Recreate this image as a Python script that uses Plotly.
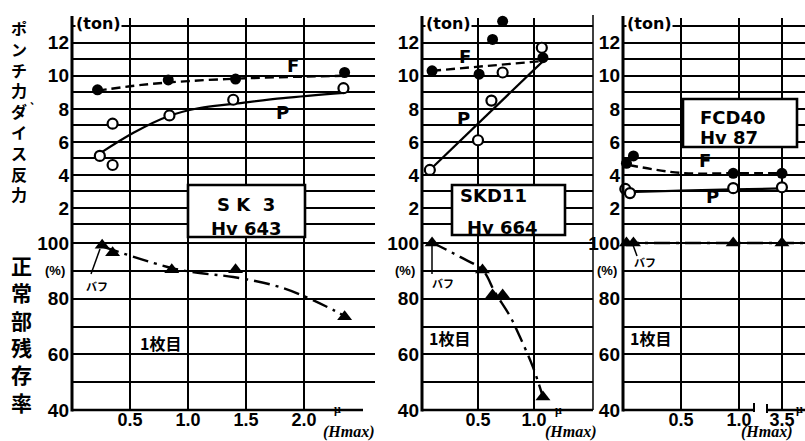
import plotly.graph_objects as go

# ---------------- data ----------------
# Panel 1 : SK 3, Hv 643
sk3_F_x = [0.22, 0.83, 1.41, 2.35]
sk3_F_y = [9.15, 9.75, 9.8, 10.2]
sk3_Ffit_x = [0.22, 0.6, 1.0, 1.5, 2.0, 2.35]
sk3_Ffit_y = [9.1, 9.45, 9.68, 9.85, 9.95, 10.0]
sk3_P_x = [0.24, 0.35, 0.35, 0.84, 1.39, 2.34]
sk3_P_y = [5.15, 7.1, 4.6, 7.6, 8.55, 9.25]
sk3_Pfit_x = [0.24, 0.53, 0.83, 1.10, 1.39, 1.82, 2.34]
sk3_Pfit_y = [5.3, 6.55, 7.55, 8.05, 8.3, 8.65, 8.97]
sk3_R_x = [0.26, 0.35, 0.86, 1.41, 2.35]
sk3_R_y = [99.2, 96.5, 90.4, 90.4, 73.5]
sk3_Rfit_x = [0.27, 0.86, 1.10, 1.39, 1.82, 2.25, 2.38]
sk3_Rfit_y = [98.6, 91.0, 89.2, 87.8, 83.8, 76.0, 73.0]

# Panel 2 : SKD11, Hv 664
skd_F_x = [0.09, 0.51, 0.63, 0.72, 1.08]
skd_F_y = [10.3, 10.1, 12.2, 13.3, 11.1]
skd_Ffit_x = [0.09, 1.08]
skd_Ffit_y = [10.3, 10.9]
skd_P_x = [0.07, 0.50, 0.62, 0.72, 1.07]
skd_P_y = [4.3, 6.1, 8.5, 10.2, 11.7]
skd_Pfit_x = [0.07, 1.09]
skd_Pfit_y = [4.3, 10.95]
skd_R_x = [0.09, 0.54, 0.63, 0.72, 1.08]
skd_R_y = [100.0, 90.3, 81.3, 81.3, 44.7]
skd_Rfit_x = [0.09, 0.34, 0.54, 0.65, 0.79, 0.875, 0.99, 1.08]
skd_Rfit_y = [100.2, 95.0, 90.3, 82.4, 73.4, 66.2, 55.5, 44.7]

# Panel 3 : FCD40, Hv 87  (x axis broken between 1.0 and 3.5)
fcd_F_x = [0.03, 0.09, 0.95, 3.5]
fcd_F_y = [4.7, 5.15, 4.1, 4.1]
fcd_Ffit_x = [0.05, 0.5, 0.95, 3.5]
fcd_Ffit_y = [4.6, 4.12, 4.1, 4.1]
fcd_P_x = [0.02, 0.06, 0.95, 3.5]
fcd_P_y = [3.15, 2.9, 3.2, 3.25]
fcd_Pfit_x = [0.02, 0.5, 0.95, 3.5]
fcd_Pfit_y = [2.95, 3.05, 3.12, 3.18]
fcd_R_x = [0.03, 0.09, 0.95, 3.5]
fcd_R_y = [100, 100, 100, 100]
fcd_Rfit_x = [0.0, 4.5]
fcd_Rfit_y = [100, 100]

ton_ticks = list(range(1, 14))
ton_text = [str(v) if (v % 2 == 0) else "" for v in ton_ticks]
pct_ticks = [40, 50, 60, 70, 80, 90, 100]
pct_text = ["40", "", "60", "", "80", "", "100"]

x_ticks = [[0.5, 1.0, 1.5, 2.0], [0.5, 1.0], [0.5, 1.0, 3.5]]
x_text = [["0.5", "1.0", "1.5", "2.0"], ["0.5", "1.0"], ["0.5", "1.0", "3.5"]]


def brk(v):
    """broken axis of panel 3: 3.5 sits just right of 1.0"""
    return v if v <= 1.2 else 1.37 + (v - 3.5) * 0.2


# ---------------- geometry ----------------
W, H = 805, 441
def fx(px): return px / W
def fy(py): return 1 - py / H

panels = [dict(x0=72, x1=375, xmax=2.612),
          dict(x0=422, x1=593, xmax=1.527),
          dict(x0=623, x1=805, xmax=1.569)]
TOP = (18, 241)
BOT = (241, 410)

NUMF = dict(family="Liberation Sans", size=19, color="black", weight="bold")
XNUMF = dict(family="Liberation Sans", size=18, color="black", weight="bold")
JP = "Noto Sans CJK JP"

fig = go.Figure()
layout = dict(width=W, height=H, margin=dict(l=0, r=0, t=0, b=0, autoexpand=False),
              paper_bgcolor="white", plot_bgcolor="rgba(0,0,0,0)",
              showlegend=False, template="none")

for i, p in enumerate(panels):
    nt, nb = 2 * i + 1, 2 * i + 2
    xs = [brk(v) for v in x_ticks[i]] if i == 2 else x_ticks[i]
    common_x = dict(domain=[fx(p["x0"]), fx(p["x1"])], range=[0, p["xmax"]],
                    tickvals=xs, showgrid=True, gridcolor="black", gridwidth=1.6,
                    zeroline=False, ticks="", fixedrange=True, automargin=False,
                    showline=False)
    layout[f"xaxis{nt}"] = dict(common_x, anchor=f"y{nt}", showticklabels=False)
    layout[f"xaxis{nb}"] = dict(common_x, anchor=f"y{nb}", ticktext=x_text[i],
                                tickfont=XNUMF, ticklabelstandoff=-3)
    common_y = dict(showgrid=True, gridcolor="black", gridwidth=1.6, zeroline=False,
                    showline=False, ticks="", ticklabelstandoff=2, automargin=False,
                    tickfont=NUMF, fixedrange=True)
    layout[f"yaxis{nt}"] = dict(common_y, domain=[fy(TOP[1]), fy(TOP[0])], range=[0, 13.5],
                                anchor=f"x{nt}", tickvals=ton_ticks, ticktext=ton_text)
    layout[f"yaxis{nb}"] = dict(common_y, domain=[fy(BOT[1]), fy(BOT[0])],
                                range=[40, 100.72], anchor=f"x{nb}",
                                tickvals=pct_ticks, ticktext=pct_text)

fig.update_layout(**layout)

LINE_F = dict(color="black", width=2.4, dash="9px,5px")
LINE_P = dict(color="black", width=2.2)
LINE_R = dict(color="black", width=2.4, dash="16px,6px,3px,6px")
M_F = dict(symbol="circle", size=11, color="black")
M_P = dict(symbol="circle", size=10, color="white", line=dict(color="black", width=2.2))
M_R = dict(symbol="triangle-up", size=13, color="black")

sets = [
    (sk3_Ffit_x, sk3_Ffit_y, sk3_F_x, sk3_F_y, sk3_Pfit_x, sk3_Pfit_y, sk3_P_x, sk3_P_y,
     sk3_Rfit_x, sk3_Rfit_y, sk3_R_x, sk3_R_y),
    (skd_Ffit_x, skd_Ffit_y, skd_F_x, skd_F_y, skd_Pfit_x, skd_Pfit_y, skd_P_x, skd_P_y,
     skd_Rfit_x, skd_Rfit_y, skd_R_x, skd_R_y),
    (fcd_Ffit_x, fcd_Ffit_y, fcd_F_x, fcd_F_y, fcd_Pfit_x, fcd_Pfit_y, fcd_P_x, fcd_P_y,
     fcd_Rfit_x, fcd_Rfit_y, fcd_R_x, fcd_R_y),
]

for i, s in enumerate(sets):
    (ffx, ffy, fxs, fys, pfx, pfy, pxs, pys, rfx, rfy, rxs, rys) = s
    if i == 2:
        ffx, fxs, pfx, pxs, rfx, rxs = ([brk(v) for v in a] for a in (ffx, fxs, pfx, pxs, rfx, rxs))
    nt, nb = 2 * i + 1, 2 * i + 2
    xt, yt = ("x" if nt == 1 else f"x{nt}"), ("y" if nt == 1 else f"y{nt}")
    xb, yb = f"x{nb}", f"y{nb}"
    fig.add_trace(go.Scatter(x=pfx, y=pfy, mode="lines", line=LINE_P, xaxis=xt, yaxis=yt,
                             line_shape="spline", hoverinfo="skip"))
    fig.add_trace(go.Scatter(x=ffx, y=ffy, mode="lines", line=LINE_F, xaxis=xt, yaxis=yt,
                             line_shape="spline", hoverinfo="skip"))
    fig.add_trace(go.Scatter(x=fxs, y=fys, mode="markers", marker=M_F, xaxis=xt, yaxis=yt,
                             cliponaxis=False))
    fig.add_trace(go.Scatter(x=pxs, y=pys, mode="markers", marker=M_P, xaxis=xt, yaxis=yt,
                             cliponaxis=False))
    fig.add_trace(go.Scatter(x=rfx, y=rfy, mode="lines", line=LINE_R, xaxis=xb, yaxis=yb,
                             line_shape="spline", hoverinfo="skip"))
    fig.add_trace(go.Scatter(x=rxs, y=rys, mode="markers", marker=M_R, xaxis=xb, yaxis=yb,
                             cliponaxis=False))

shapes = []
ann = []

def box(x0, y0, x1, y1):
    shapes.append(dict(type="rect", xref="paper", yref="paper", x0=fx(x0), x1=fx(x1),
                       y0=fy(y1), y1=fy(y0), fillcolor="white",
                       line=dict(color="black", width=2.6), layer="above"))

def bar(x0, y0, x1, y1):
    """solid black filled strip (used for the heavy axis lines)"""
    shapes.append(dict(type="rect", xref="paper", yref="paper", x0=fx(x0), x1=fx(x1),
                       y0=fy(y1), y1=fy(y0), fillcolor="black",
                       line=dict(width=0), layer="above"))

def seg(x0, y0, x1, y1, w=2):
    shapes.append(dict(type="line", xref="paper", yref="paper", x0=fx(x0), x1=fx(x1),
                       y0=fy(y0), y1=fy(y1), line=dict(color="black", width=w),
                       layer="above"))

def text(t, x, y, size, family="DejaVu Sans", bold=True, xanchor="center",
         bg=None, italic=False):
    a = dict(text=t, x=fx(x), y=fy(y), xref="paper", yref="paper", showarrow=False,
             xanchor=xanchor, yanchor="middle",
             font=dict(family=family, size=size, color="black",
                       weight="bold" if bold else "normal",
                       style="italic" if italic else "normal"))
    if bg:
        a["bgcolor"] = bg
        a["borderpad"] = 0
    ann.append(a)

# axis lines (heavy, drawn as filled strips)
for p in panels:
    bar(p["x0"] - 1.5, 16, p["x0"] + 1.5, 411.5)
bar(72, 408.7, 363, 411.3)
bar(422, 408.7, 593, 411.3)
bar(623, 408.7, 754, 411.3)
bar(766, 408.7, 805, 411.3)
seg(754, 403, 754, 412, 2)
seg(767, 413, 767, 404, 2)
# panel separator line
seg(593, 15, 593, 410, 1.5)

# material boxes
box(188, 185, 305, 237)
text("S K\u00a0\u00a03", 246, 204, 18)
text("Hv 643", 246, 228, 18)
box(452, 185, 565, 235)
text("SKD11", 493, 195, 18)
text("Hv 664", 502, 227, 18)
box(683, 99, 797, 147)
text("FCD40", 733, 117, 18)
text("Hv 87", 729, 137, 18)

# (ton) labels at top of each force axis
for p in panels:
    text("(ton)", p["x0"] + 3, 24, 16, xanchor="left", bg="white")

# (%) labels
for xc in (55, 405, 607):
    text("(%)", xc, 270, 13, family="Liberation Sans", bold=True, bg="white")

# F / P curve labels
for (t, x, y) in [("F", 293, 65), ("P", 282, 112), ("F", 465, 56), ("P", 463, 118),
                  ("F", 705, 160), ("P", 712, 196)]:
    text(t, x, y, 18)

# バフ (buff) labels with leader lines
for (x, y) in [(97, 286), (443, 283), (645, 262)]:
    text("バフ", x, y, 11, family=JP)
seg(100, 249, 91, 274, 1.5)
seg(432, 246, 432, 274, 1.5)
seg(633, 245, 637, 256, 1.5)

# 1枚目
for (x, y) in [(160, 343), (450, 338), (650, 338)]:
    text("1枚目", x, y, 16, family=JP)

# x-axis unit labels
for (x, y) in [(337, 409), (558, 410), (799, 409)]:
    text("μ", x, y, 12, family="Liberation Serif")
for (x, y) in [(349, 432), (571, 432), (767, 432)]:
    text("(Hmax)", x, y, 16, family="Liberation Serif", italic=True)

# vertical Japanese axis titles
text("ポ<br>ン<br>チ<br>力<br>ダ<br>イ<br>ス<br>反<br>力", 19, 111, 16, family=JP)
text("、", 35, 99, 10, family=JP)
text("正<br>常<br>部<br>残<br>存<br>率", 21, 333, 21, family=JP)

fig.update_layout(shapes=shapes, annotations=ann)
fig.write_html("out.html")
